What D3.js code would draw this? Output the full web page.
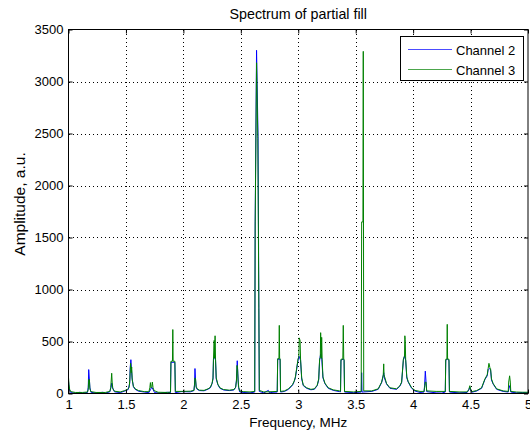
<!DOCTYPE html>
<html lang="en">
<head>
  <meta charset="UTF-8">
  <title>Spectrum of partial fill</title>
  <script src="https://d3js.org/d3.v7.min.js"></script>
  <style>
    body { margin: 0; background: #fff; font-family: "Liberation Sans", Arial, sans-serif; }
    text { fill: #000; font-family: "Liberation Sans", Arial, sans-serif; }
  </style>
</head>
<body>
  <div id="chart"></div>

  <script>
    // Tick values
    const xTicks = [1, 1.5, 2, 2.5, 3, 3.5, 4, 4.5, 5];
    const yTicks = [0, 500, 1000, 1500, 2000, 2500, 3000, 3500];

    // Series names
    const seriesNames = ["Channel 2", "Channel 3"];

    // Channel 2 (blue): [frequency MHz, amplitude]
    const ch2 = [
      [1.000,120],[1.004,70],[1.010,30],[1.020,8],[1.060,4],[1.100,12],[1.120,4],[1.165,10],
      [1.172,60],[1.176,230],[1.182,130],[1.186,60],[1.195,12],[1.240,4],[1.300,12],[1.320,4],
      [1.360,16],[1.370,60],[1.376,100],[1.382,60],[1.400,16],[1.450,8],
      [1.490,24],[1.520,38],[1.533,100],[1.537,250],[1.543,325],[1.548,240],[1.553,150],
      [1.565,65],[1.580,40],[1.610,22],[1.660,14],[1.700,8],[1.715,40],[1.725,60],[1.735,40],
      [1.750,8],[1.800,4],[1.860,12],[1.888,8],[1.892,300],[1.926,300],[1.930,8],[1.980,18],
      [2.060,16],[2.092,28],[2.097,90],[2.101,240],[2.106,130],[2.111,60],[2.120,40],
      [2.140,28],[2.180,26],[2.215,42],[2.235,55],[2.250,95],[2.258,140],[2.262,330],
      [2.270,355],[2.280,320],[2.286,140],[2.300,85],[2.318,50],[2.350,34],[2.400,28],
      [2.440,34],[2.455,60],[2.462,130],[2.469,315],[2.474,190],[2.480,60],[2.490,16],
      [2.520,10],[2.580,6],[2.621,14],[2.625,1650],[2.637,3300],[2.650,2470],[2.657,830],
      [2.661,20],[2.700,6],[2.740,30],[2.750,6],[2.780,12],[2.817,14],[2.821,330],
      [2.842,330],[2.846,14],[2.880,20],[2.915,40],[2.950,80],[2.965,115],[2.975,150],
      [2.998,320],[3.005,360],[3.012,340],[3.020,320],[3.030,140],[3.044,75],[3.073,50],
      [3.110,36],[3.140,40],[3.165,75],[3.178,130],[3.186,320],[3.195,380],[3.205,330],
      [3.215,150],[3.232,95],[3.261,50],[3.305,30],[3.360,18],[3.368,16],[3.372,320],
      [3.392,330],[3.399,320],[3.403,14],[3.480,8],[3.549,14],[3.552,200],[3.555,14],
      [3.640,20],[3.696,40],[3.726,105],[3.740,170],[3.744,200],
      [3.750,150],[3.769,90],[3.798,50],[3.856,40],[3.885,70],[3.900,105],[3.915,320],
      [3.925,360],[3.931,340],[3.935,320],[3.945,150],[3.957,110],[3.987,50],[4.016,24],
      [4.060,10],[4.095,14],[4.100,80],[4.106,215],[4.112,120],[4.118,18],[4.200,6],
      [4.250,4],[4.280,14],[4.284,320],[4.297,330],[4.312,320],[4.316,14],[4.400,6],
      [4.470,10],[4.485,35],[4.494,60],[4.500,35],[4.510,12],[4.553,24],[4.596,50],
      [4.625,135],[4.645,170],[4.653,230],[4.662,240],[4.674,230],[4.682,130],[4.697,90],
      [4.727,40],[4.784,20],[4.828,14],[4.834,50],[4.840,75],[4.846,50],[4.850,14],
      [4.900,6],[4.950,10],[5.000,6]
    ];

    // Channel 3 (green): [frequency MHz, amplitude]
    const ch3 = [
      [1.000,155],[1.004,90],[1.010,40],[1.020,18],[1.060,10],[1.120,10],[1.165,14],
      [1.172,40],[1.176,135],[1.182,135],[1.186,45],[1.195,18],[1.240,10],[1.320,10],
      [1.360,20],[1.368,60],[1.376,195],[1.380,110],[1.386,45],[1.400,22],[1.450,15],
      [1.490,28],[1.515,40],[1.528,60],[1.534,130],[1.538,230],[1.541,290],[1.546,200],
      [1.550,255],[1.555,130],[1.565,70],[1.580,45],[1.610,28],[1.660,18],[1.700,18],
      [1.708,55],[1.713,105],[1.718,55],[1.725,65],[1.730,110],[1.736,55],[1.745,28],
      [1.780,12],[1.860,10],[1.888,14],[1.892,310],[1.905,310],[1.908,615],[1.911,310],
      [1.926,310],[1.930,20],[1.980,20],[2.060,22],[2.092,30],[2.097,80],[2.101,150],
      [2.106,140],[2.111,70],[2.120,45],[2.140,32],[2.180,30],[2.215,45],[2.235,60],
      [2.250,100],[2.258,150],[2.262,330],[2.268,510],[2.271,340],[2.276,555],[2.280,330],
      [2.286,150],[2.300,90],[2.318,55],[2.350,38],[2.400,32],[2.440,38],[2.455,60],
      [2.462,120],[2.467,270],[2.472,230],[2.476,130],[2.482,60],[2.490,25],[2.520,18],
      [2.580,15],[2.621,20],[2.625,1620],[2.637,3180],[2.648,2450],[2.657,820],[2.661,30],
      [2.700,15],[2.780,18],[2.817,20],[2.821,335],[2.832,335],[2.835,655],[2.838,335],
      [2.842,335],[2.846,20],[2.880,25],[2.915,45],[2.950,85],[2.965,120],[2.975,160],
      [2.998,330],[3.005,350],[3.009,535],[3.013,520],[3.016,510],[3.020,330],[3.030,150],
      [3.044,80],[3.073,55],[3.110,40],[3.140,45],[3.165,80],[3.178,140],[3.186,330],
      [3.192,345],[3.195,585],[3.200,340],[3.204,540],[3.208,330],[3.215,160],[3.232,100],
      [3.261,55],[3.305,35],[3.360,25],[3.368,22],[3.372,330],[3.388,330],[3.392,655],
      [3.396,330],[3.399,330],[3.403,20],[3.480,15],[3.548,20],[3.552,1650],[3.563,1650],
      [3.566,3290],[3.570,25],[3.640,25],[3.696,45],[3.726,110],[3.740,180],[3.744,285],
      [3.747,180],[3.752,160],[3.769,95],[3.798,55],[3.856,45],[3.885,75],[3.900,110],
      [3.915,330],[3.925,360],[3.928,555],[3.931,520],[3.935,330],[3.945,160],[3.957,115],
      [3.987,55],[4.016,30],[4.060,20],[4.095,20],[4.100,60],[4.106,110],[4.112,110],
      [4.118,25],[4.200,20],[4.280,20],[4.284,330],[4.294,330],[4.297,665],[4.300,330],
      [4.312,330],[4.316,20],[4.400,15],[4.470,15],[4.485,40],[4.494,75],[4.500,40],
      [4.510,18],[4.553,28],[4.596,55],[4.625,140],[4.645,180],[4.653,240],[4.660,290],
      [4.668,250],[4.674,240],[4.682,140],[4.697,95],[4.727,45],[4.784,25],[4.828,20],
      [4.832,110],[4.840,170],[4.846,110],[4.850,20],[4.900,14],[4.950,12],[5.000,12]
    ];

    const seriesColors = ["#0000ff", "#008000"];

    // Plot box in page pixels
    const W = 530, H = 430;
    const pL = 68.5, pR = 528, pT = 29.5, pB = 393.5;

    const svg = d3.select("#chart")
                  .append("svg")
                  .attr("width", W)
                  .attr("height", H);

    const x = d3.scaleLinear().domain([1, 5]).range([pL, pR]);
    const y = d3.scaleLinear().domain([0, 3500]).range([pB, pT]);

    // Plot background
    svg.append("rect")
       .attr("x", pL).attr("y", pT)
       .attr("width", pR - pL).attr("height", pB - pT)
       .attr("fill", "#fff");

    // Dotted grid
    const grid = svg.append("g")
                    .attr("stroke", "#000")
                    .attr("stroke-width", 1)
                    .attr("stroke-dasharray", "1,3")
                    .attr("shape-rendering", "crispEdges");
    grid.selectAll(".gx")
        .data(xTicks.slice(1, -1))
        .join("line")
        .attr("class", "gx")
        .attr("x1", d => Math.round(x(d)) + 0.5).attr("x2", d => Math.round(x(d)) + 0.5)
        .attr("y1", pT).attr("y2", pB);
    grid.selectAll(".gy")
        .data(yTicks.slice(1, -1))
        .join("line")
        .attr("class", "gy")
        .attr("y1", d => Math.round(y(d)) + 0.5).attr("y2", d => Math.round(y(d)) + 0.5)
        .attr("x1", pL).attr("x2", pR);

    // Clip for the data lines
    svg.append("clipPath").attr("id", "plotclip")
       .append("rect")
       .attr("x", pL).attr("y", pT)
       .attr("width", pR - pL).attr("height", pB - pT);

    const line = d3.line()
                   .x(d => x(d[0]))
                   .y(d => y(d[1]));

    const plot = svg.append("g").attr("clip-path", "url(#plotclip)");
    [ch2, ch3].forEach((s, i) => {
      plot.append("path")
          .datum(s)
          .attr("fill", "none")
          .attr("stroke", seriesColors[i])
          .attr("stroke-width", 1)
          .attr("d", line);
    });

    // Axes (ticks inward, MATLAB style)
    svg.append("g")
       .attr("transform", `translate(0, ${pB})`)
       .call(d3.axisBottom(x).tickValues(xTicks).tickSize(-4).tickPadding(6).tickFormat(d3.format("")))
       .call(g => g.select(".domain").remove());
    svg.append("g")
       .attr("transform", `translate(0, ${pT})`)
       .call(d3.axisTop(x).tickValues(xTicks).tickSize(-4).tickFormat(""))
       .call(g => g.select(".domain").remove());
    svg.append("g")
       .attr("transform", `translate(${pL}, 0)`)
       .call(d3.axisLeft(y).tickValues(yTicks).tickSize(-4).tickPadding(5).tickFormat(d3.format("d")))
       .call(g => g.select(".domain").remove());
    svg.append("g")
       .attr("transform", `translate(${pR}, 0)`)
       .call(d3.axisRight(y).tickValues(yTicks).tickSize(-4).tickFormat(""))
       .call(g => g.select(".domain").remove());

    svg.selectAll(".tick text")
       .style("font-size", "13px")
       .style("font-family", "'Liberation Sans', Arial, sans-serif")
       .attr("fill", "#000");

    // Frame
    svg.append("rect")
       .attr("x", pL).attr("y", pT)
       .attr("width", pR - pL).attr("height", pB - pT)
       .attr("fill", "none")
       .attr("stroke", "#000")
       .attr("stroke-width", 1);

    // Title and axis labels
    svg.append("text")
       .attr("x", (pL + pR) / 2)
       .attr("y", 19)
       .attr("text-anchor", "middle")
       .style("font-size", "14.3px")
       .text("Spectrum of partial fill");

    svg.append("text")
       .attr("x", (pL + pR) / 2)
       .attr("y", 427)
       .attr("text-anchor", "middle")
       .style("font-size", "13.5px")
       .text("Frequency, MHz");

    svg.append("text")
       .attr("transform", "rotate(-90)")
       .attr("x", -204)
       .attr("y", 25)
       .attr("text-anchor", "middle")
       .style("font-size", "15.5px")
       .text("Amplitude, a.u.");

    // Legend
    const legend = svg.append("g");
    legend.append("rect")
          .attr("x", 400.5).attr("y", 36.5)
          .attr("width", 123).attr("height", 44)
          .attr("fill", "#fff")
          .attr("stroke", "#000");
    seriesNames.forEach((name, i) => {
      const ly = 49.5 + i * 20;
      legend.append("line")
            .attr("x1", 408).attr("x2", 452)
            .attr("y1", ly).attr("y2", ly)
            .attr("stroke", seriesColors[i])
            .attr("stroke-opacity", 0.7);
      legend.append("text")
            .attr("x", 456)
            .attr("y", ly + 5)
            .style("font-size", "13px")
            .text(name);
    });
  </script>
</body>
</html>
